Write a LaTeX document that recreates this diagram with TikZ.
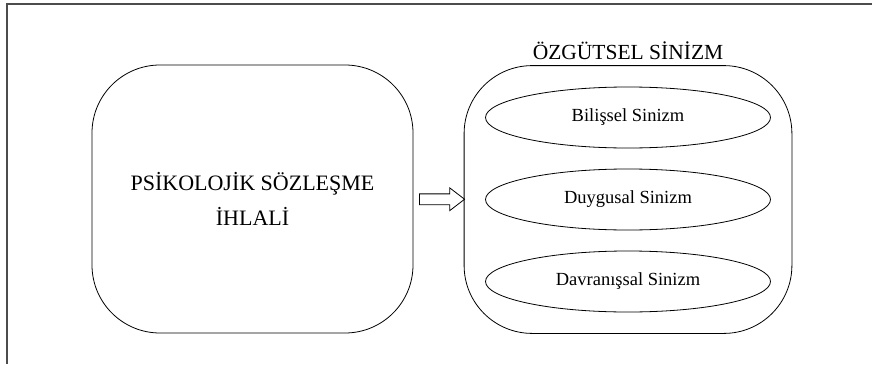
\documentclass[tikz,border=0pt]{standalone}
\usepackage{fontspec}
\setmainfont{Liberation Serif}
\usetikzlibrary{positioning,fit,calc,shapes.geometric,shapes.arrows}

\begin{document}
\begin{tikzpicture}[x=1pt,y=1pt,node distance=82pt,on grid,
    outer/.style={draw, rounded corners=68pt, line width=0.8pt},
    facet/.style={ellipse, draw, line width=0.8pt, minimum width=285pt, minimum height=61pt, font=\fontsize{18.5}{22}\selectfont},
    push/.style={single arrow, draw, line width=0.8pt, minimum height=45pt, inner sep=5pt, single arrow head extend=6pt, single arrow tip angle=75}
    ]
    \useasboundingbox (0,0) rectangle (872,-364);
    \draw[line width=1.5pt, black!70] (872,-4) -- (7,-4) -- (7,-364);

    \node[facet] (s_0) at (628,-117.5) {Bilişsel Sinizm};
    \node[facet] (s_1) [below=of s_0] {Duygusal Sinizm};
    \node[facet] (s_2) [below=of s_1] {Davranışsal Sinizm};

    \node[outer, inner sep=21pt, fit={(s_0) (s_1) (s_2)}, label={[font=\fontsize{21.5}{25}\selectfont, label distance=2pt]above:ÖZGÜTSEL SİNİZM}] (q_1) {};

    \node[outer, minimum width=321pt, minimum height=268pt, align=center, font=\fontsize{22}{35}\selectfont] (q_0) at (252.5,-199) {PSİKOLOJİK SÖZLEŞME\\İHLALİ};

    \node[push] (a_0) at ($(q_0.east)!.5!(q_1.west)$) {};
\end{tikzpicture}
\end{document}
